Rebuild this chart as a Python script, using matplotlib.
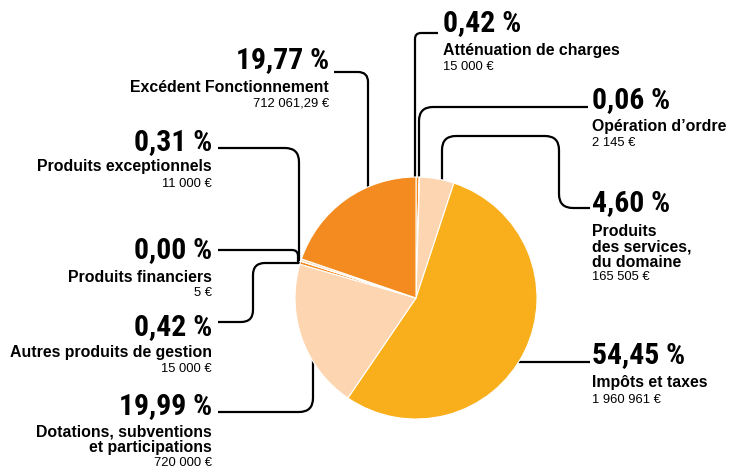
# recettes de fonctionnement - camembert avec étiquettes et traits de rappel
import numpy as np
import matplotlib
matplotlib.use("Agg")
import matplotlib.pyplot as plt
from matplotlib import font_manager as fm
from matplotlib.path import Path
from matplotlib.patches import PathPatch

# --- data (clockwise from the top) ---
categories = ["Atténuation de charges", "Opération d’ordre",
              "Produits\ndes services,\ndu domaine", "Impôts et taxes",
              "Dotations, subventions\net participations", "Autres produits de gestion",
              "Produits financiers", "Produits exceptionnels", "Excédent Fonctionnement"]
amounts = [15000, 2145, 165505, 1960961, 720000, 15000, 5, 11000, 712061.29]
pct_labels = ["0,42 %", "0,06 %", "4,60 %", "54,45 %", "19,99 %",
              "0,42 %", "0,00 %", "0,31 %", "19,77 %"]
amount_labels = ["15 000 €", "2 145 €", "165 505 €", "1 960 961 €", "720 000 €",
                 "15 000 €", "5 €", "11 000 €", "712 061,29 €"]

ORANGE = "#F38B20"
YELLOW = "#F9AF1B"
PEACH = "#FDD5B0"
colors = [ORANGE, PEACH, PEACH, YELLOW, PEACH, ORANGE, ORANGE, PEACH, ORANGE]

W, H = 729, 469
CX, CY, R = 416, 298, 121


def condensed_bold():
    # look for a narrow bold face among the installed files
    wanted = [("liberationsansnarrow-bold.", 22), ("robotocondensed-bold.", 21.4),
              ("dejavusanscondensed-bold.", 18), ("opensans_condensed-bold", 20),
              ("opensanscondensed-bold", 20)]
    files = [f.fname for f in fm.fontManager.ttflist]
    for key, size in wanted:
        for fn in files:
            if key in fn.lower().replace(" ", "").split("/")[-1] + ".":
                return fm.FontProperties(fname=fn, size=size)
    return fm.FontProperties(family="Roboto", weight="bold", size=18)


fig = plt.figure(figsize=(W / 100, H / 100), dpi=100)
ax = fig.add_axes([0, 0, 1, 1])

# y axis inverted (pixel-like coords) -> startangle -90 / counterclock gives
# a visually clockwise pie starting at 12 o'clock
ax.pie(amounts, colors=colors, startangle=-90, counterclock=True,
       center=(CX, CY), radius=R,
       wedgeprops=dict(edgecolor="white", linewidth=0.8, zorder=3))
ax.set_xlim(0, W)
ax.set_ylim(H, 0)
ax.set_aspect("equal")
ax.axis("off")


def edge_y(x, top=True):
    d = np.sqrt(R**2 - (x - CX)**2)
    return CY - d if top else CY + d


def edge_x(y, left=True):
    d = np.sqrt(R**2 - (y - CY)**2)
    return CX - d if left else CX + d


def leader(pts, r=10):
    # polyline with rounded corners
    verts = [pts[0]]
    codes = [Path.MOVETO]
    for i in range(1, len(pts) - 1):
        p0, p1, p2 = map(np.array, (pts[i - 1], pts[i], pts[i + 1]))
        a = p1 + (p0 - p1) / np.linalg.norm(p0 - p1) * min(r, np.linalg.norm(p0 - p1) / 2)
        b = p1 + (p2 - p1) / np.linalg.norm(p2 - p1) * min(r, np.linalg.norm(p2 - p1) / 2)
        verts += [tuple(a), tuple(p1), tuple(b)]
        codes += [Path.LINETO, Path.CURVE3, Path.CURVE3]
    verts.append(pts[-1])
    codes.append(Path.LINETO)
    ax.add_patch(PathPatch(Path(verts, codes), fill=False, lw=1.6,
                           edgecolor="black", capstyle="butt", zorder=2))


# leader routes (layout)
leader([(438, 33), (415, 33), (415, edge_y(415) + 3)], r=6)
leader([(588, 107), (419, 107), (419, edge_y(419) + 3)], r=14)
leader([(590, 208), (559, 208), (559, 136), (442, 136), (442, edge_y(442) + 3)], r=14)
leader([(edge_x(362, left=False) - 3, 362), (590, 362)])
leader([(218, 412), (313, 412), (313, edge_y(313, top=False) - 3)], r=14)
leader([(218, 322), (253, 322), (253, 263), (edge_x(263) + 3, 263)], r=12)
leader([(218, 250), (298, 250), (298, 262)], r=6)
leader([(218, 148), (299, 148), (299, 261)], r=14)
leader([(334, 72), (368, 72), (368, edge_y(368) + 3)], r=10)

pct_font = condensed_bold()
CAT = dict(family="Liberation Sans", weight="bold", fontsize=11.4)
VAL = dict(family="Liberation Sans", fontsize=9.4)

# label anchors: (x, y of pct, y of category, y of amount, alignment)
label_pos = [
    (443, 23, 50, 67, "left"),
    (592, 100, 127, 143, "left"),
    (592, 203, 247, 277, "left"),
    (592, 355, 382, 400, "left"),
    (212, 406, 440, 463, "right"),
    (212, 327, 353, 369, "right"),
    (212, 250, 277, 293, "right"),
    (212, 142, 167, 184, "right"),
    (329, 60, 87, 103, "right"),
]

for cat, pct, amt, (x, yp, yc, ya, ha) in zip(categories, pct_labels, amount_labels, label_pos):
    ax.text(x, yp, pct, ha=ha, va="center", fontproperties=pct_font)
    ax.text(x, yc, cat, ha=ha, va="center", linespacing=1.08, **CAT)
    ax.text(x, ya, amt, ha=ha, va="center", **VAL)

fig.savefig("out.png", dpi=100, facecolor="white")
